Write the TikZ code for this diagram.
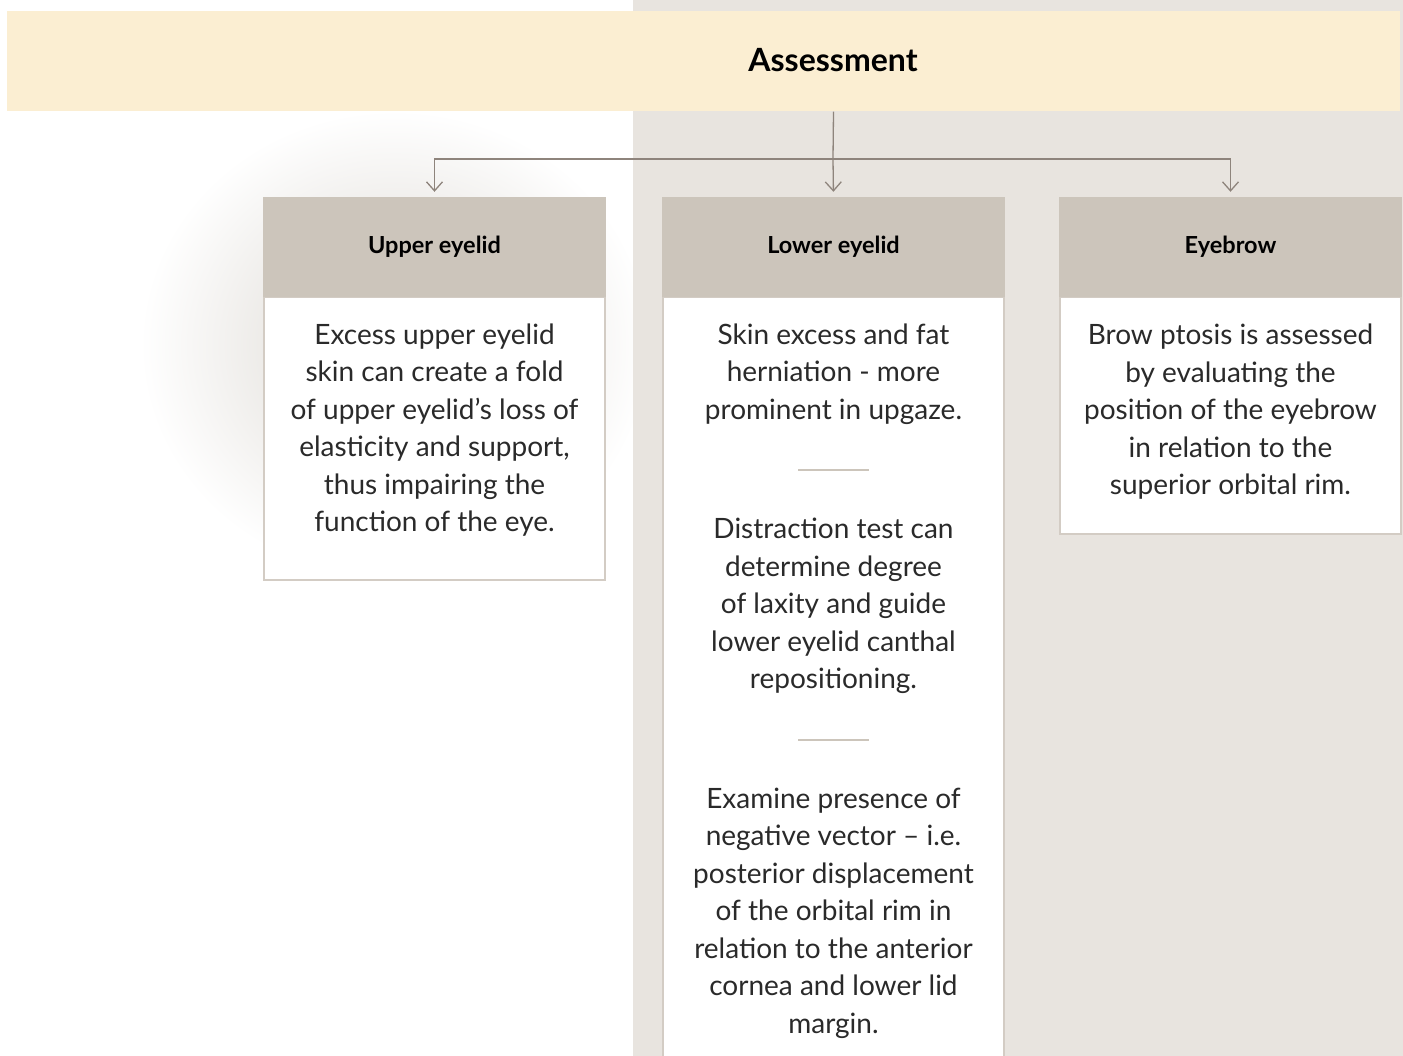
\documentclass[tikz,border=0pt]{standalone}
\usepackage{fontspec}
\setmainfont{Lato}
\usetikzlibrary{arrows.meta,shadings}
\definecolor{panel}{HTML}{E8E4DF}
\definecolor{banner}{HTML}{FBEED2}
\definecolor{hdrfill}{HTML}{CCC5BB}
\definecolor{boxline}{HTML}{D3CCC4}
\definecolor{conncol}{HTML}{8E847C}
\definecolor{bodytxt}{HTML}{2A2A2A}
\definecolor{shadowc}{HTML}{DAD6D0}
\tikzset{
  hdrbox/.style={rectangle, fill=hdrfill, minimum width=343pt, minimum height=100pt, inner sep=0pt,
    font=\bfseries\fontsize{23.5}{28}\selectfont, text=black},
  bodybox/.style={rectangle, fill=white, draw=boxline, line width=1.5pt, minimum width=341pt, inner sep=0pt, anchor=north},
  bodytext/.style={align=center, text=bodytxt, font=\fontsize{28}{37.5}\selectfont, inner sep=0pt},
  conn/.style={draw=conncol, line width=1.3pt, -{Straight Barb[length=9pt,width=16pt]}, shorten >=5pt},
  connplain/.style={draw=conncol, line width=1.3pt},
  divider/.style={draw=hdrfill, line width=2pt}
}
\begin{document}
\begin{tikzpicture}[x=1pt,y=-1pt]
\useasboundingbox (0,0) rectangle (1403,1056);
\fill[white] (0,0) rectangle (1403,1056);
% soft shadow
\begin{scope}
\clip (0,0) rectangle (633,1056);
\shade[inner color=shadowc, outer color=white] (395,345) ellipse [x radius=255pt, y radius=235pt];
\end{scope}
% grey panel
\fill[panel] (633,0) rectangle (1403,1056);
% banner
\node[rectangle, fill=banner, minimum width=1393pt, minimum height=100pt, inner sep=0pt] (ban) at (703.5,61.5) {};
\node[font=\bfseries\fontsize{32}{36}\selectfont, text=black, inner sep=0pt] (title) at (833,60) {Assessment};
% bodies
\node[bodybox, minimum height=282pt] (ueb) at (434.5,297) {};
\node[bodybox, minimum height=780pt] (leb) at (833.5,297) {};
\node[bodybox, minimum height=236pt] (ebb) at (1230.5,297) {};
% headers
\node[hdrbox] (ue) at (434.5,247) {Upper eyelid};
\node[hdrbox] (le) at (833.5,247) {Lower eyelid};
\node[hdrbox] (eb) at (1230.5,247) {Eyebrow};
% connectors
\coordinate (j) at (833,159);
\draw[connplain] (ban.south -| le.north) -- (j);
\draw[conn] (j) -- (le.north);
\draw[conn] (j) -| (ue.north);
\draw[conn] (j) -| (eb.north);
% texts
\node[bodytext] (t1) at (434.5,430) {Excess upper eyelid\\skin can create a fold\\of upper eyelid’s loss of\\elasticity and support,\\thus impairing the\\function of the eye.};
\node[bodytext] (t2) at (833.5,374) {Skin excess and fat\\herniation - more\\prominent in upgaze.};
\node[bodytext] (t3) at (833.5,606) {Distraction test can\\determine degree\\of laxity and guide\\lower eyelid canthal\\repositioning.};
\node[bodytext] (t4) at (833.5,913) {Examine presence of\\negative vector – i.e.\\posterior displacement\\of the orbital rim in\\relation to the anterior\\cornea and lower lid\\margin.};
\node[bodytext] (t5) at (1230.5,412) {Brow ptosis is assessed\\by evaluating the\\position of the eyebrow\\in relation to the\\superior orbital rim.};
% dividers
\coordinate (d1a) at (798,470); \coordinate (d1b) at (869,470);
\coordinate (d2a) at (798,740); \coordinate (d2b) at (869,740);
\draw[divider] (d1a) -- (d1b);
\draw[divider] (d2a) -- (d2b);
\end{tikzpicture}
\end{document}
